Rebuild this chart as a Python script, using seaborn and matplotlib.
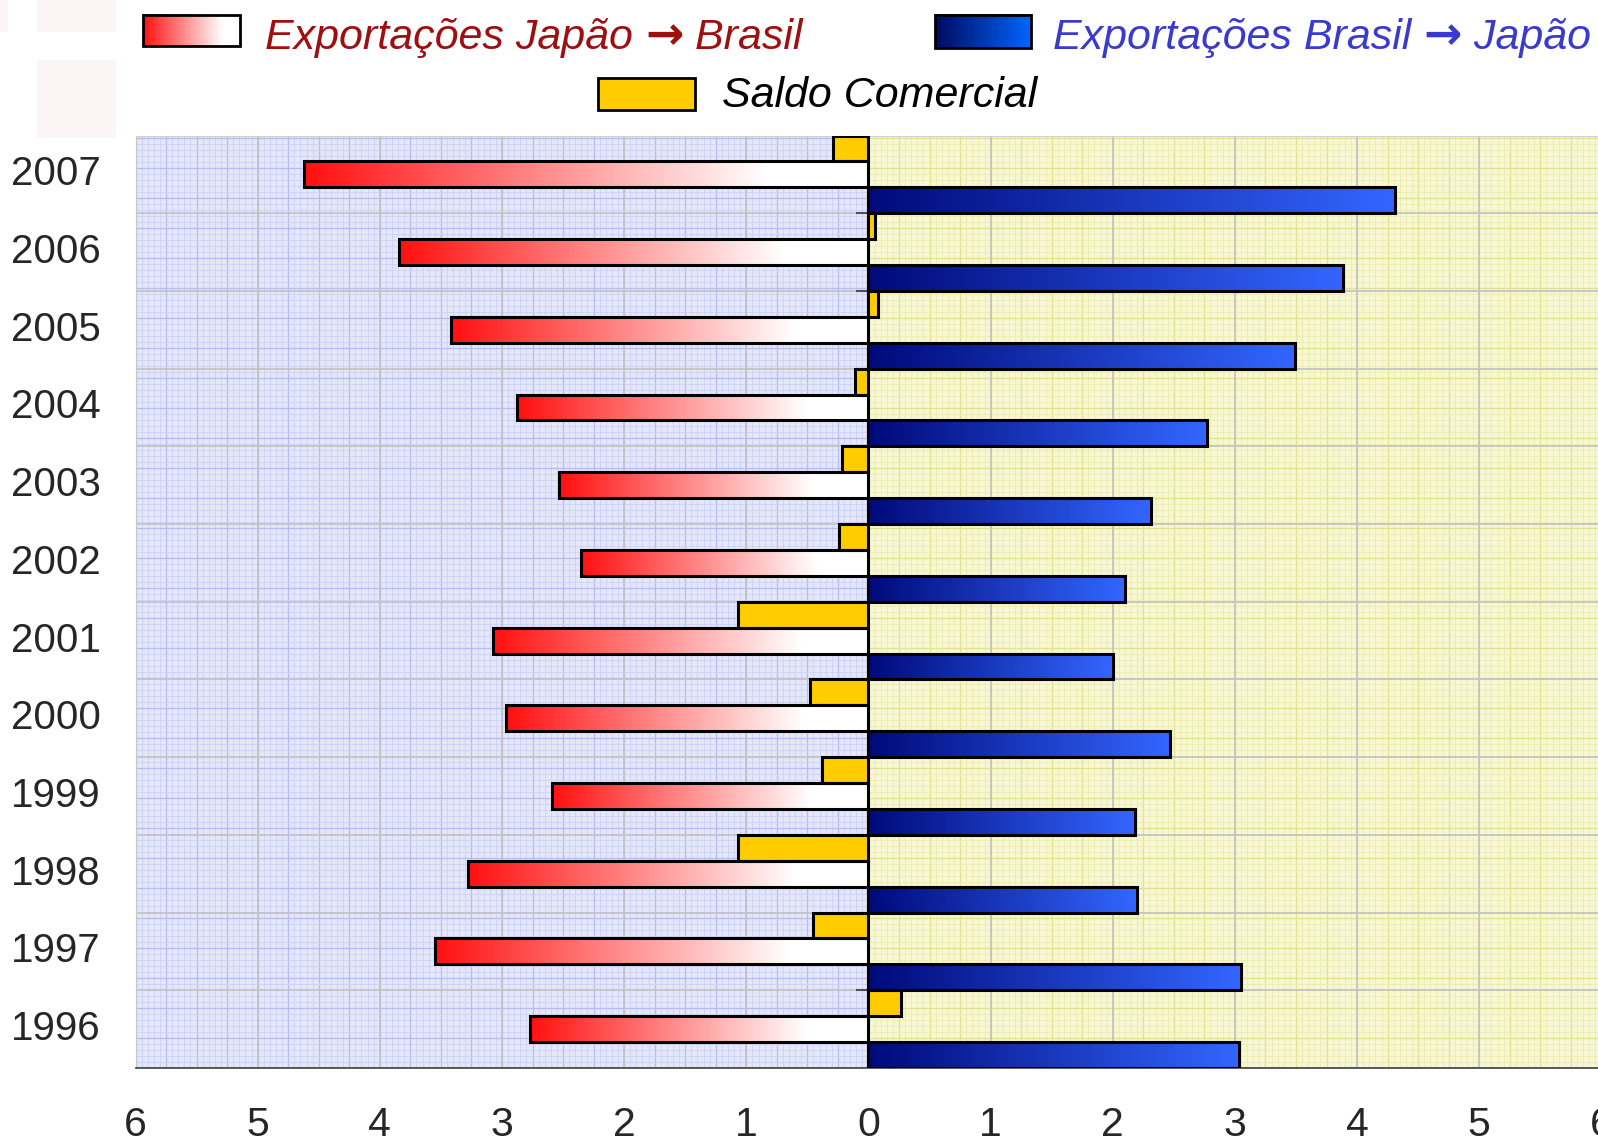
import numpy as np
import pandas as pd
import matplotlib
matplotlib.use("Agg")
import matplotlib.pyplot as plt
import seaborn as sns
from matplotlib.colors import LinearSegmentedColormap
from matplotlib.patches import Rectangle

# %% dados (US$ bilhões)

anos = ["2007", "2006", "2005", "2004", "2003", "2002",
        "2001", "2000", "1999", "1998", "1997", "1996"]
jp_br = [4.62, 3.84, 3.42, 2.88, 2.53, 2.35, 3.07, 2.97, 2.59, 3.28, 3.55, 2.77]
br_jp = [4.31, 3.885, 3.49, 2.77, 2.31, 2.10, 2.00, 2.47, 2.18, 2.20, 3.05, 3.03]
saldo = [-0.29, 0.05, 0.08, -0.11, -0.22, -0.24, -1.07, -0.48, -0.38, -1.07, -0.45, 0.27]
x_ticks = list(range(-6, 7))

lab_jp = "Exportações Japão \u2192 Brasil"
lab_br = "Exportações Brasil \u2192 Japão"
lab_saldo = "Saldo Comercial"
series = [lab_saldo, lab_jp, lab_br]

df = pd.DataFrame({
    "ano": anos * 3,
    "serie": [lab_saldo] * 12 + [lab_jp] * 12 + [lab_br] * 12,
    "valor": saldo + [-v for v in jp_br] + br_jp,
})

# %% estilo

sns.set_style("white")
plt.rcParams["font.family"] = ["Liberation Sans", "DejaVu Sans"]

W, H = 1598, 1144
fig = plt.figure(figsize=(W / 100, H / 100), dpi=100)
pos = [135.5 / W, 1 - 1068 / H, (1601.4 - 135.5) / W, (1068 - 135.5) / H]

# fundo quadriculado (papel milimetrado)
bg = fig.add_axes(pos, zorder=0)
bg.set_xlim(-6, 6)
bg.set_ylim(0, 1)
bg.axis("off")
bg.axvspan(-6, 0, color="#e4e6fa", lw=0)
bg.axvspan(0, 6, color="#f7f7d4", lw=0)
fine_x = np.arange(-6, 6.001, 0.05)
bg.vlines(fine_x[fine_x < 0], 0, 1, color="#cdd1f5", lw=0.6)
bg.vlines(fine_x[fine_x > 0], 0, 1, color="#ececb0", lw=0.6)
med_x = np.arange(-6, 6.001, 0.25)
bg.vlines(med_x[med_x < 0], 0, 1, color="#b7bcf0", lw=0.9)
bg.vlines(med_x[med_x > 0], 0, 1, color="#e2e290", lw=0.9)
fine_y = np.arange(0, 1, 6 / 932)
bg.hlines(fine_y, -6, 0, color="#cdd1f5", lw=0.6)
bg.hlines(fine_y, 0, 6, color="#ececb0", lw=0.6)
med_y = np.arange(0, 1, 30 / 932)
bg.hlines(med_y, -6, 0, color="#b7bcf0", lw=0.9)
bg.hlines(med_y, 0, 6, color="#e2e290", lw=0.9)

# %% barras

ax = fig.add_axes(pos, zorder=1)
ax.patch.set_alpha(0)
sns.barplot(df, y="ano", x="valor", hue="serie", order=anos, hue_order=series,
            palette=["#ffcc00", "#ffffff", "#3366ff"], width=1, dodge=True,
            orient="h", legend=False, edgecolor="black", linewidth=2.2,
            saturation=1, ax=ax)

cm_red = LinearSegmentedColormap.from_list("r", [(0, "#ff1010"), (0.82, "#ffffff"), (1, "#ffffff")])
cm_blue = LinearSegmentedColormap.from_list("b", ["#000a7a", "#3366ff"])
grad = np.linspace(0, 1, 256)[None, :]

for cont, cm in [(ax.containers[1], cm_red), (ax.containers[2], cm_blue)]:
    for p in cont.patches:
        bb = p.get_bbox()
        x0, x1 = min(bb.x0, bb.x1), max(bb.x0, bb.x1)
        y0, y1 = min(bb.y0, bb.y1), max(bb.y0, bb.y1)
        p.set_facecolor("none")
        p.set_zorder(3)
        ax.imshow(grad, cmap=cm, aspect="auto", interpolation="bilinear",
                  extent=(x0, x1, y1, y0), zorder=2.5)
for p in ax.containers[0].patches:
    p.set_zorder(3)

bounds = np.arange(-0.5, 12, 1)
ax.vlines(x_ticks, -0.5, 11.5, color="#c4c4c4", lw=1.3, zorder=1)
ax.hlines(bounds, -6, 6, color="#c4c4c4", lw=1.3, zorder=1)
ax.hlines(bounds[1:-1], -0.1, 0, color="#505050", lw=1.5, zorder=2)
ax.axvline(0, color="black", lw=1.5, zorder=2)

ax.set_xlim(-6, 6)
ax.set_ylim(11.5, -0.5)
ax.set_xticks(x_ticks)
ax.set_xticklabels([str(abs(t)) for t in x_ticks])
ax.set_yticks(range(len(anos)))
ax.set_yticklabels(anos, va="center")
ax.set_xlabel("")
ax.set_ylabel("")
ax.tick_params(axis="x", length=11, width=1.2, color="#555555", labelsize=29.5, pad=16)
ax.tick_params(axis="y", length=0, labelsize=29, pad=25)
ax.spines["bottom"].set_color("#404040")
ax.spines["bottom"].set_linewidth(1.2)
ax.spines["left"].set_color("#c8c8c8")
ax.spines["top"].set_color("#d0d0d0")
ax.spines["right"].set_visible(False)

# %% legenda

lg = fig.add_axes([0, 0, 1, 1], zorder=5)
lg.set_xlim(0, W)
lg.set_ylim(H, 0)
lg.axis("off")
lg.patch.set_alpha(0)

cm_blue_leg = LinearSegmentedColormap.from_list("bl", ["#000a60", "#0066ff"])
lg.imshow(grad, cmap=cm_red, aspect="auto", extent=(143, 239.5, 46, 14.5), zorder=1)
lg.add_patch(Rectangle((143, 14.5), 96.5, 31.5, fill=False, ec="black", lw=2))
lg.imshow(grad, cmap=cm_blue_leg, aspect="auto", extent=(935, 1031, 48, 14.5), zorder=1)
lg.add_patch(Rectangle((935, 14.5), 96, 33.5, fill=False, ec="black", lw=2))
lg.add_patch(Rectangle((598, 77.5), 97, 32.5, fc="#ffcc00", ec="black", lw=2))
lg.set_xlim(0, W)
lg.set_ylim(H, 0)

renderer = fig.canvas.get_renderer()


def texto_seta(x, y, label, color):
    # texto em itálico com seta mais grossa (DejaVu) no meio
    antes, depois = label.split(" \u2192 ")
    partes = [(antes + " ", dict(style="italic", fontsize=31)),
              ("\u2192", dict(family=["DejaVu Sans"], weight="bold", fontsize=33)),
              (" " + depois, dict(style="italic", fontsize=31))]
    for s, kw in partes:
        t = lg.text(x, y, s, color=color, va="baseline", ha="left", **kw)
        ext = t.get_window_extent(renderer)
        x = x + ext.width


texto_seta(265, 49, lab_jp, "#9e1010")
texto_seta(1053, 49, lab_br, "#3a3acc")
lg.text(722, 107, lab_saldo, color="black", fontsize=31, style="italic", va="baseline")

# retângulos claros no canto
for (x0, y0, w, h) in [(0, 0, 8, 32), (37, 0, 79, 32), (37, 60, 79, 78)]:
    fig.add_artist(Rectangle((x0 / W, 1 - (y0 + h) / H), w / W, h / H,
                             transform=fig.transFigure, color="#fcf5f5", lw=0))

fig.savefig("out.png", dpi=100)
